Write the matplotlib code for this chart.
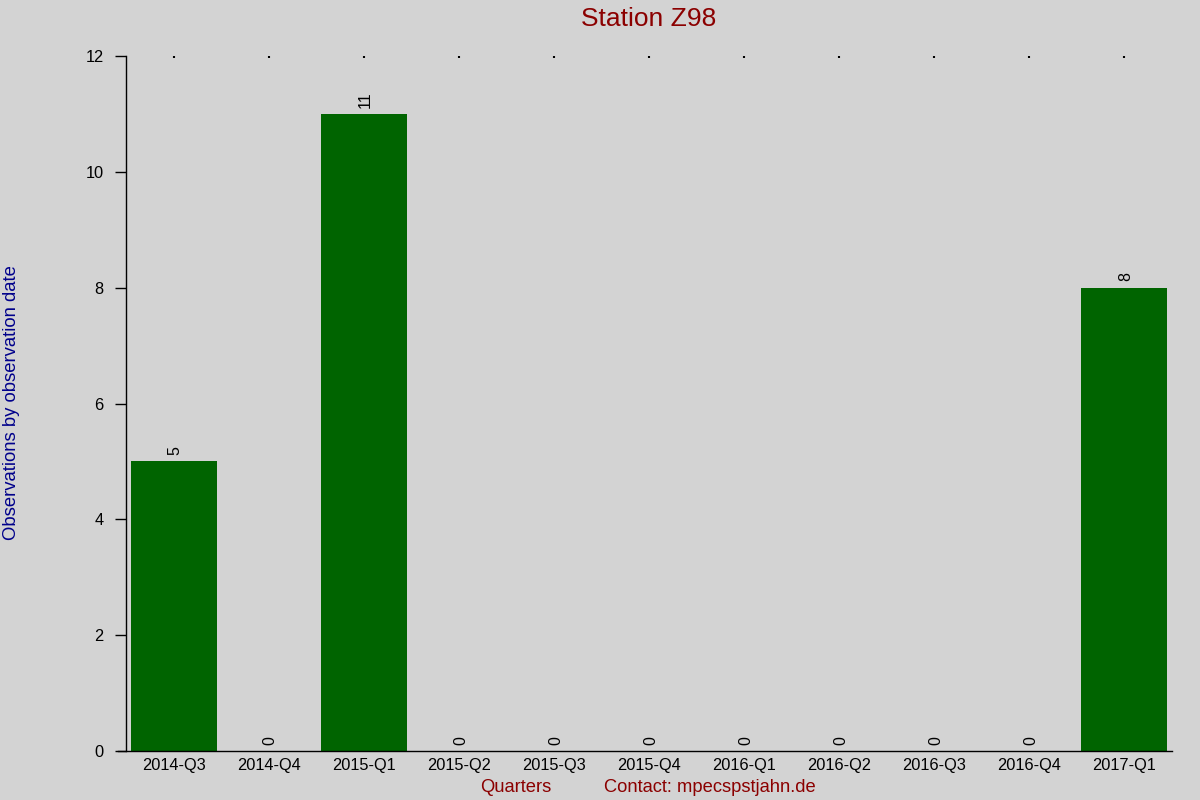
import matplotlib
matplotlib.use("Agg")
import matplotlib.pyplot as plt

categories = ["2014-Q3", "2014-Q4", "2015-Q1", "2015-Q2", "2015-Q3", "2015-Q4",
              "2016-Q1", "2016-Q2", "2016-Q3", "2016-Q4", "2017-Q1"]
values = [5, 0, 11, 0, 0, 0, 0, 0, 0, 0, 8]
yticks = [0, 2, 4, 6, 8, 10, 12]

plt.rcParams['font.family'] = ['Liberation Sans', 'DejaVu Sans']
bg = '#d3d3d3'
fig = plt.figure(figsize=(12, 8), dpi=100, facecolor=bg)
ax = fig.add_axes([126/1200, 49/800, (1172-126)/1200, (751-56)/800])
ax.set_facecolor(bg)

x = list(range(len(categories)))
bars = ax.bar(x, values, width=0.9, color='#006400')
for xi, v in zip(x, values):
    ax.annotate(str(v), (xi, v), xytext=(1, 4.5), textcoords='offset points',
                rotation=90, ha='center', va='bottom', fontsize=11.5, color='black')

ax.set_xlim(-0.505, 10.505)
ax.set_ylim(0, 12)
ax.set_yticks(yticks)
ax.set_xticks(x)
ax.set_xticklabels(categories)
ax.tick_params(axis='y', length=8, width=1, labelsize=11.8, pad=8)
ax.tick_params(axis='x', bottom=False, top=True, labelbottom=True, labeltop=False,
               length=1.5, width=1.5, direction='in', labelsize=11.8, pad=5)
for s in ['top', 'right']:
    ax.spines[s].set_visible(False)
ax.spines['bottom'].set_bounds(-0.59, 10.505)
for s in ['left', 'bottom']:
    ax.spines[s].set_linewidth(1)

fig.text(649/1200, 1 - 19/800, "Station Z98", ha='center', va='center',
         fontsize=19, color='#8b0000')
fig.text(12/1200, 1 - 403/800, "Observations by observation date", rotation=90,
         ha='center', va='center', fontsize=13.3, color='#00008b')
fig.text(516/1200, 1 - 787/800, "Quarters", ha='center', va='center',
         fontsize=13.2, color='#8b0000')
fig.text(710/1200, 1 - 787/800, "Contact: mpecspstjahn.de", ha='center', va='center',
         fontsize=13.2, color='#8b0000')

fig.savefig("out.png", dpi=100, facecolor=bg)
